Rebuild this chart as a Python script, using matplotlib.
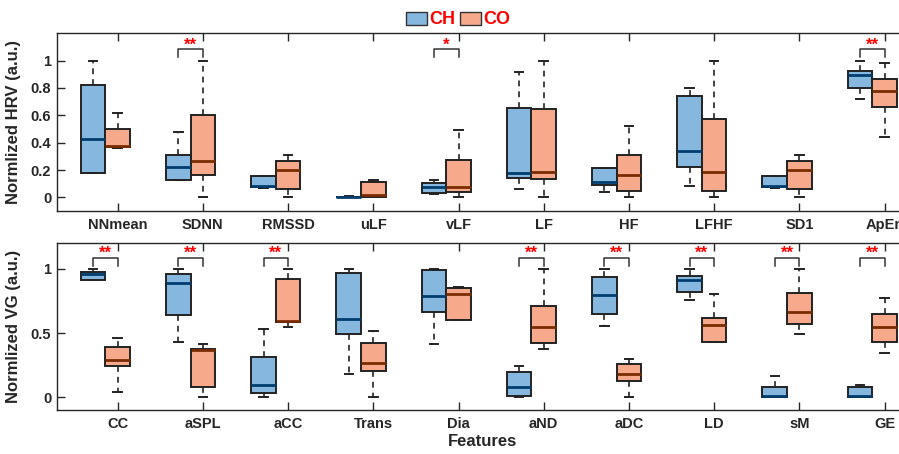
import matplotlib
matplotlib.use('Agg')
import matplotlib.pyplot as plt
from matplotlib.patches import Patch

plt.rcParams['font.family'] = ['Liberation Sans', 'DejaVu Sans']
plt.rcParams['font.weight'] = 'bold'

# 5-number summaries per feature: [min, q1, median, q3, max]
hrv_names = ['NNmean', 'SDNN', 'RMSSD', 'uLF', 'vLF', 'LF', 'HF', 'LFHF', 'SD1', 'ApEn']
hrv_ch = [
    [0.177, 0.177, 0.425, 0.823, 1.0],
    [0.124, 0.124, 0.221, 0.308, 0.476],
    [0.068, 0.075, 0.080, 0.153, 0.158],
    [0.0, 0.0, 0.002, 0.005, 0.01],
    [0.022, 0.034, 0.075, 0.107, 0.129],
    [0.061, 0.141, 0.177, 0.653, 0.917],
    [0.039, 0.090, 0.109, 0.214, 0.214],
    [0.083, 0.223, 0.342, 0.743, 0.796],
    [0.068, 0.075, 0.080, 0.153, 0.158],
    [0.716, 0.796, 0.893, 0.920, 1.0],
]
hrv_co = [
    [0.364, 0.371, 0.379, 0.502, 0.617],
    [0.0, 0.167, 0.269, 0.600, 1.0],
    [0.0, 0.058, 0.197, 0.267, 0.311],
    [0.0, 0.0, 0.017, 0.112, 0.126],
    [0.0, 0.039, 0.075, 0.274, 0.490],
    [0.0, 0.133, 0.189, 0.643, 1.0],
    [0.0, 0.044, 0.163, 0.308, 0.524],
    [0.0, 0.049, 0.184, 0.570, 1.0],
    [0.0, 0.058, 0.197, 0.267, 0.311],
    [0.439, 0.658, 0.774, 0.867, 0.985],
]
hrv_sig = ['', '**', '', '', '*', '', '', '', '', '**']

vg_names = ['CC', 'aSPL', 'aCC', 'Trans', 'Dia', 'aND', 'aDC', 'LD', 'sM', 'GE']
vg_ch = [
    [0.917, 0.917, 0.961, 0.974, 1.0],
    [0.429, 0.642, 0.888, 0.961, 1.0],
    [0.0, 0.031, 0.094, 0.312, 0.530],
    [0.182, 0.496, 0.610, 0.969, 1.0],
    [0.416, 0.668, 0.787, 0.992, 1.0],
    [0.0, 0.013, 0.078, 0.200, 0.242],
    [0.553, 0.649, 0.795, 0.940, 1.0],
    [0.761, 0.821, 0.912, 0.943, 1.0],
    [0.0, 0.003, 0.008, 0.081, 0.169],
    [0.0, 0.003, 0.008, 0.081, 0.096],
]
vg_co = [
    [0.042, 0.244, 0.288, 0.390, 0.465],
    [0.0, 0.081, 0.366, 0.377, 0.416],
    [0.545, 0.584, 0.592, 0.922, 1.0],
    [0.0, 0.208, 0.265, 0.421, 0.519],
    [0.600, 0.600, 0.803, 0.852, 0.857],
    [0.379, 0.421, 0.551, 0.712, 1.0],
    [0.0, 0.130, 0.179, 0.260, 0.299],
    [0.434, 0.434, 0.561, 0.616, 0.803],
    [0.496, 0.574, 0.662, 0.813, 1.0],
    [0.345, 0.431, 0.551, 0.647, 0.777],
]
vg_sig = ['**', '**', '**', '', '', '**', '**', '**', '**', '**']

ch_color = '#85b7df'
co_color = '#f6aa8b'
ch_med = '#003d6e'
co_med = '#7a2c00'
w = 0.288


def stats(rows):
    out = []
    for r in rows:
        out.append(dict(whislo=r[0], q1=r[1], med=r[2], q3=r[3], whishi=r[4], fliers=[]))
    return out


def draw(ax, names, ch, co, sig, yticks, ylabel):
    n = len(names)
    pos = list(range(1, n + 1))
    for data, p, fc, mc in [(ch, [x - w for x in pos], ch_color, ch_med),
                            (co, pos, co_color, co_med)]:
        ax.bxp(stats(data), positions=p, widths=w, patch_artist=True,
               showfliers=False, capwidths=0.1,
               boxprops=dict(facecolor=fc, edgecolor='#222222', linewidth=1.4),
               medianprops=dict(color=mc, linewidth=2),
               whiskerprops=dict(color='#222222', linewidth=1.2, linestyle=(0, (3.5, 3))),
               capprops=dict(color='#222222', linewidth=1.4))
    for i, s in enumerate(sig):
        if s:
            x0, x1 = pos[i] - w, pos[i]
            ax.plot([x0, x0, x1, x1], [1.025, 1.083, 1.083, 1.025], color='#333333', lw=1.1)
            ax.text((x0 + x1) / 2, 1.06, s, color='red', ha='center', va='bottom',
                    fontsize=12, fontweight='bold')
    ax.set_xlim(0.284, n + 0.284)
    ax.set_ylim(-0.1, 1.2)
    ax.set_xticks(pos)
    ax.set_xticklabels(names)
    ax.set_yticks(yticks)
    ax.set_yticklabels([('%g' % t) for t in yticks])
    ax.tick_params(direction='in', length=6, width=1, labelsize=10.5, colors='#262626',
                   top=True, pad=5)
    ax.tick_params(axis='y', pad=4)
    for sp in ax.spines.values():
        sp.set_linewidth(1)
        sp.set_color('#262626')
    ax.set_ylabel(ylabel, fontsize=12, fontweight='bold', color='#262626')
    ax.yaxis.set_label_coords(-0.042, 0.5)


fig = plt.figure(figsize=(8.99, 4.54), dpi=100)
ax1 = fig.add_axes([56.7 / 899, 0.535, 852 / 899, 0.392])
ax2 = fig.add_axes([56.7 / 899, 0.0963, 852 / 899, 0.368])

draw(ax1, hrv_names, hrv_ch, hrv_co, hrv_sig, [0, 0.2, 0.4, 0.6, 0.8, 1], 'Normlized HRV (a.u.)')
draw(ax2, vg_names, vg_ch, vg_co, vg_sig, [0, 0.5, 1], 'Normlized VG (a.u.)')
ax2.set_xlabel('Features', fontsize=12, fontweight='bold', color='#262626', labelpad=2)

handles = [Patch(facecolor=ch_color, edgecolor='#333333', label='CH'),
           Patch(facecolor=co_color, edgecolor='#333333', label='CO')]
fig.legend(handles=handles, loc='center', bbox_to_anchor=(458 / 899, 1 - 20 / 454),
           ncol=2, frameon=False, labelcolor='red',
           prop={'weight': 'bold', 'size': 13}, handlelength=1.2, handleheight=0.7,
           handletextpad=0.1, columnspacing=0.25, borderpad=0)

fig.savefig('out.png', dpi=100)
